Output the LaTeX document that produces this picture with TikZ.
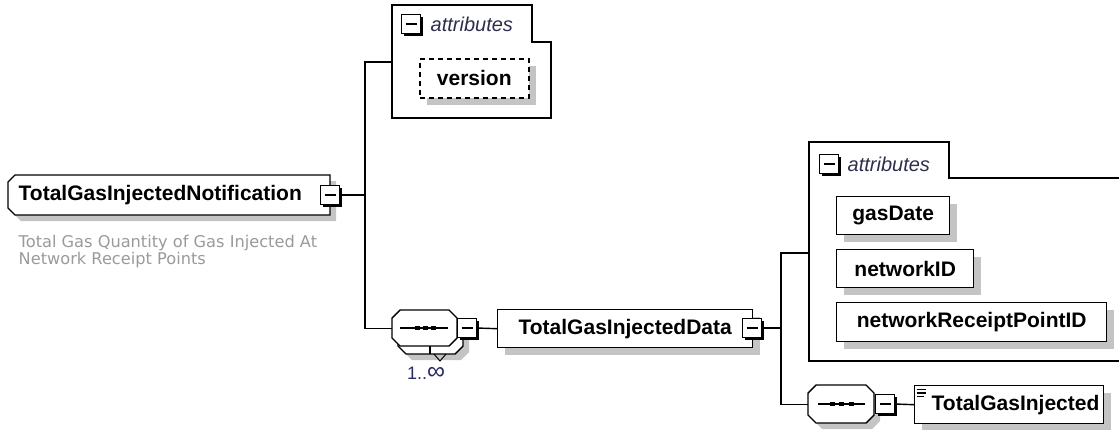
\documentclass[tikz,border=0pt]{standalone}
\usepackage{fontspec}
\usepackage{graphicx}
\setmainfont{Liberation Sans}
\newfontfamily\dvsans{DejaVu Sans}
\usetikzlibrary{shadows,calc}
\definecolor{shd}{HTML}{C4C4C4}
\definecolor{desc}{HTML}{9A9A9A}
\definecolor{attrc}{HTML}{2E2E4E}
\definecolor{mult}{HTML}{2A2A66}
\newcommand\octp[5]{(#1+#5,#2) -- (#3-#5,#2) -- (#3,#2+#5) -- (#3,#4-#5) -- (#3-#5,#4) -- (#1+#5,#4) -- (#1,#4-#5) -- (#1,#2+#5) -- cycle}
\begin{document}
\begin{tikzpicture}[x=1pt,y=-1pt,line width=1.4pt,
  lbl/.style={font=\fontsize{21}{25}\selectfont\bfseries, text=black},
  elbox/.style={lbl, draw, fill=white, anchor=north west, inner sep=0pt,
    drop shadow={shadow xshift=7pt,shadow yshift=-7pt,fill=shd,opacity=1}},
  minus/.style={draw, fill=white, minimum size=19pt, inner sep=0pt, line width=1.5pt,
    drop shadow={shadow xshift=2.2pt,shadow yshift=-2.2pt,fill=black,opacity=1},
    path picture={\draw[line width=1.3pt] ([xshift=4pt]path picture bounding box.west) -- ([xshift=-4pt]path picture bounding box.east);}},
  attrlbl/.style={font=\fontsize{20}{24}\selectfont\itshape, text=attrc, anchor=west, inner sep=0pt},
  seqbox/.style={inner sep=0pt, anchor=north west},
  dotsq/.style={fill=black},
]
\useasboundingbox (0,0) rectangle (1119,429);
\clip (0,0) rectangle (1119,429);

% ---------- root element ----------
\fill[shd] (21,181) -- (336,181) -- (336,221) -- (21,221) -- (14,214) -- (14,188) -- cycle;
\draw[fill=white] (15,175) -- (330,175) -- (330,215) -- (15,215) -- (8,208) -- (8,182) -- cycle;
\node[lbl, anchor=west, inner sep=0pt] (root) at (18,195) {TotalGasInjectedNotification};
\node[minus] (rootm) at (330,195) {};
\node[font=\dvsans\fontsize{16.2}{17}\selectfont, text=desc, anchor=north west, inner sep=0pt, align=left] (rootdesc) at (18,234)
  {Total Gas Quantity of Gas Injected At\\Network Receipt Points};

\coordinate (j1) at (365,195);

% ---------- attributes 1 ----------
\draw[fill=white] (392,5) -- (532,5) -- (532,42) -- (551,42) -- (551,118) -- (392,118) -- cycle;
\coordinate (attr1) at (392,62);
\node[minus] (attr1m) at (411,24) {};
\node[attrlbl] (attr1t) at (430,24) {attributes};
\node[elbox, line width=1.6pt, dash pattern=on 5pt off 4pt, minimum width=109pt, minimum height=39pt] (version) at (419,58) {version};

% ---------- sequence 1 (1..inf) ----------
\node[seqbox, minimum width=65pt, minimum height=36pt] (seq1) at (392,310) {};
\fill[shd] \octp{404}{324}{469}{360}{8};
\draw[fill=white] \octp{398}{318}{463}{354}{8};
\draw[fill=white] \octp{392}{310}{457}{346}{8};
\draw (430,346) -- (430,354);
\draw[line width=1pt] (434,354) -- (440,361) -- (446,354);
\draw[line width=1.2pt] (400,328) -- (448,328);
\fill[dotsq] (414.5,325.8) rectangle (419.5,330.2);
\fill[dotsq] (422.5,325.8) rectangle (427.5,330.2);
\fill[dotsq] (430.5,325.8) rectangle (435.5,330.2);
\node[minus] (seq1m) at (467,328) {};
\node[font=\fontsize{18}{20}\selectfont, text=mult, inner sep=0pt] (mult1) at (426,373) {1..\scalebox{1.4}{∞}};

% ---------- TotalGasInjectedData ----------
\node[elbox, minimum width=255pt, minimum height=38pt] (data) at (497,309) {TotalGasInjectedData\hspace{12pt}};
\node[minus] (datam) at (752,328) {};
\coordinate (j2) at (781,328);

% ---------- attributes 2 ----------
\draw[fill=white] (1125,178) -- (949,178) -- (949,142) -- (809,142) -- (809,361) -- (1125,361);
\coordinate (attr2) at (809,253);
\node[minus] (attr2m) at (829,164) {};
\node[attrlbl] (attr2t) at (847,164) {attributes};
\node[elbox, minimum width=113pt, minimum height=38pt] (gasDate) at (836,196) {gasDate};
\node[elbox, minimum width=137pt, minimum height=38pt] (networkID) at (836,249) {networkID};
\node[elbox, minimum width=270pt, minimum height=39pt] (nrp) at (836,302) {networkReceiptPointID};

% ---------- sequence 2 ----------
\node[seqbox, minimum width=66pt, minimum height=38pt] (seq2) at (808,385) {};
\fill[shd] \octp{814}{391}{880}{429}{8};
\draw[fill=white] \octp{808}{385}{874}{423}{8};
\draw[line width=1.2pt] (818,404) -- (865,404);
\fill[dotsq] (829.5,401.8) rectangle (834.5,406.2);
\fill[dotsq] (839,401.8) rectangle (844,406.2);
\fill[dotsq] (848.5,401.8) rectangle (853.5,406.2);
\node[minus] (seq2m) at (885,404) {};

% ---------- TotalGasInjected ----------
\node[elbox, minimum width=189pt, minimum height=38pt] (tgi) at (914,385) {};
\node[lbl, anchor=west, inner sep=0pt] (tgit) at (931,405) {TotalGasInjected};
\draw[line width=1.2pt] (917,389.5) -- (926,389.5) (917,393) -- (926,393) (917,396.5) -- (924,396.5);

% ---------- connectors ----------
\draw (rootm.east) -- (j1);
\draw (j1) |- (attr1);
\draw (j1) |- (seq1.west);
\draw (seq1m.east) -- (data.west);
\draw (datam.east) -- (j2);
\draw (j2) |- (attr2);
\draw (j2) |- (seq2.west);
\draw (seq2m.east) -- (tgi.west);
\end{tikzpicture}
\end{document}
